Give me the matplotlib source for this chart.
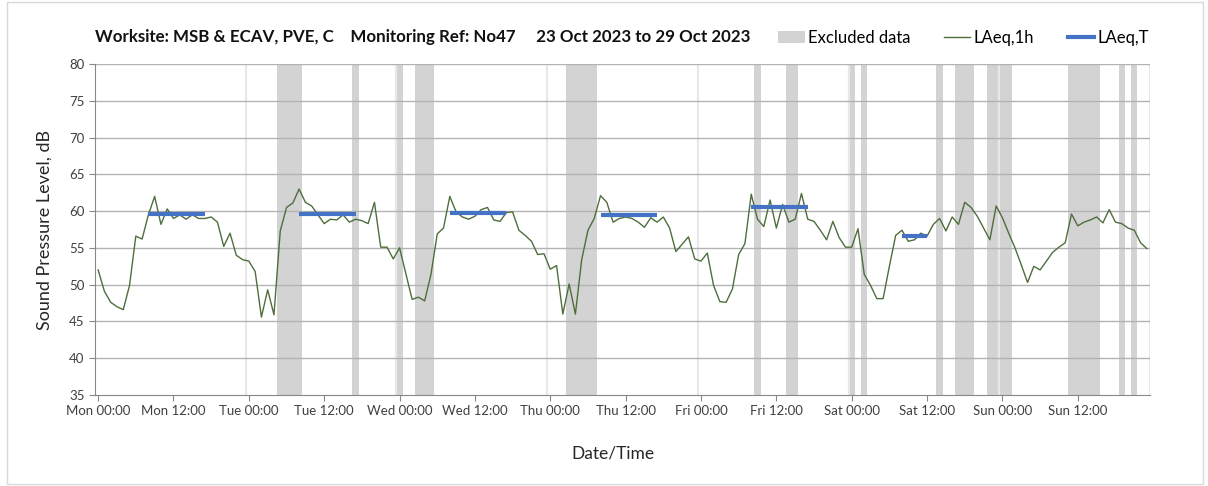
import matplotlib
matplotlib.use("Agg")
import matplotlib.pyplot as plt
from matplotlib.patches import Patch, Rectangle
from matplotlib.lines import Line2D

plt.rcParams['font.family'] = ['Lato', 'DejaVu Sans']

# ------------------------------
# Data (hourly LAeq,1h from Mon 23 Oct 00:00)
# ------------------------------
laeq_1h = [
    52.0, 49.1, 47.6, 47.0, 46.6, 49.9, 56.6, 56.2, 59.5, 62.0, 58.2, 60.3,
    59.0, 59.5, 58.9, 59.5, 59.0, 59.0, 59.2, 58.5, 55.2, 57.0, 54.0, 53.4,
    53.2, 51.8, 45.6, 49.3, 45.9, 57.3, 60.5, 61.1, 63.0, 61.2, 60.7, 59.5,
    58.3, 58.9, 58.8, 59.5, 58.5, 58.9, 58.7, 58.3, 61.2, 55.1, 55.1, 53.5,
    55.0, 51.5, 48.0, 48.3, 47.8, 51.4, 56.9, 57.7, 62.0, 59.9, 59.2, 58.9,
    59.3, 60.2, 60.5, 58.8, 58.6, 59.8, 59.9, 57.4, 56.7, 55.9, 54.1, 54.2,
    52.1, 52.6, 46.0, 50.1, 46.0, 53.4, 57.4, 59.0, 62.1, 61.2, 58.5, 59.0,
    59.2, 59.0, 58.5, 57.8, 59.1, 58.5, 59.2, 57.7, 54.5, 55.5, 56.5, 53.5,
    53.2, 54.3, 49.9, 47.7, 47.6, 49.4, 54.1, 55.6, 62.3, 58.9, 57.9, 61.5,
    57.7, 60.9, 58.5, 58.9, 62.4, 58.9, 58.6, 57.4, 56.1, 58.6, 56.4, 55.1,
    55.1, 57.6, 51.4, 49.9, 48.1, 48.1, 52.5, 56.7, 57.4, 55.9, 56.1, 57.0,
    56.6, 58.2, 59.0, 57.3, 59.2, 58.2, 61.2, 60.5, 59.3, 57.7, 56.1, 60.7,
    59.1, 57.0, 55.0, 52.7, 50.3, 52.5, 52.0, 53.2, 54.4, 55.1, 55.7, 59.6,
    58.0, 58.5, 58.8, 59.2, 58.4, 60.2, 58.5, 58.3, 57.7, 57.4, 55.7, 54.9,
]
hours = list(range(len(laeq_1h)))

# daytime LAeq,T periods (start hour, end hour, level)
laeq_t_start = [8, 32, 56, 80, 104, 128]
laeq_t_end = [17, 41, 65, 89, 113, 132]
laeq_t_level = [59.6, 59.6, 59.8, 59.5, 60.6, 56.6]

# excluded hours (first, last)
excl_first = [29, 41, 48, 51, 75, 105, 110, 120, 122, 134, 137, 142, 155, 163, 165]
excl_last = [32, 41, 48, 53, 79, 105, 111, 120, 122, 134, 139, 145, 159, 163, 165]

days = ["Mon", "Tue", "Wed", "Thu", "Fri", "Sat", "Sun"]
tick_labels = [f"{d} {t}" for d in days for t in ("00:00", "12:00")]

# ------------------------------
# Plot
# ------------------------------
fig = plt.figure(figsize=(12.08, 4.86), dpi=100)
ax = fig.add_axes([95 / 1208, 91 / 486, 1055 / 1208, 331 / 486])

for a, b in zip(excl_first, excl_last):
    ax.axvspan(a - 0.5, b + 0.5, color="#d3d3d3", lw=0, zorder=1)

for y in range(40, 81, 5):
    ax.axhline(y, color="#b3b3b3", lw=1, zorder=2)
for d in range(1, 8):
    ax.axvline(24 * d - 0.5, color="#e8e8e8", lw=1.6, zorder=1.5)

ax.plot(hours, laeq_1h, color="#4e6e3c", lw=1, zorder=3)
for s, e, lv in zip(laeq_t_start, laeq_t_end, laeq_t_level):
    ax.plot([s, e], [lv, lv], color="#4472C4", lw=3, zorder=4,
            solid_capstyle="butt")

ax.set_xlim(-0.5, 167.5)
ax.set_ylim(35, 80)
ax.set_yticks(range(35, 81, 5))
ax.set_xticks(range(0, 168, 12))
ax.set_xticklabels(tick_labels)
ax.tick_params(axis="both", colors="#888888", labelcolor="#404040",
               labelsize=9.5, length=4)
for side in ("top", "right"):
    ax.spines[side].set_visible(False)
for side in ("left", "bottom"):
    ax.spines[side].set_color("#888888")

ax.set_ylabel("Sound Pressure Level, dB", fontsize=13, color="#262626",
              labelpad=12)
fig.text(613 / 1208, 1 - 453 / 486, "Date/Time", fontsize=12.5,
         color="#262626", ha="center", va="center")

fig.text(95 / 1208, 1 - 37 / 486,
         "Worksite: MSB & ECAV, PVE, C    Monitoring Ref: No47     "
         "23 Oct 2023 to 29 Oct 2023",
         fontsize=12.2, fontweight="bold", color="#111111", va="center")

handles = [
    Patch(facecolor="#d3d3d3", edgecolor="none", label="Excluded data"),
    Line2D([], [], color="#4e6e3c", lw=1, label="LAeq,1h"),
    Line2D([], [], color="#4472C4", lw=3, label="LAeq,T"),
]
fig.legend(handles=handles, loc="center right",
           bbox_to_anchor=(1164 / 1208, 1 - 38 / 486), ncol=3,
           frameon=False, fontsize=12, handlelength=1.6,
           handletextpad=0.2, columnspacing=2.0)

fig.patches.append(Rectangle((7 / 1208, 0.005), 1196 / 1208, 0.99,
                             transform=fig.transFigure, fill=False,
                             edgecolor="#d9d9d9", lw=1))

fig.savefig("out.png", dpi=100)
